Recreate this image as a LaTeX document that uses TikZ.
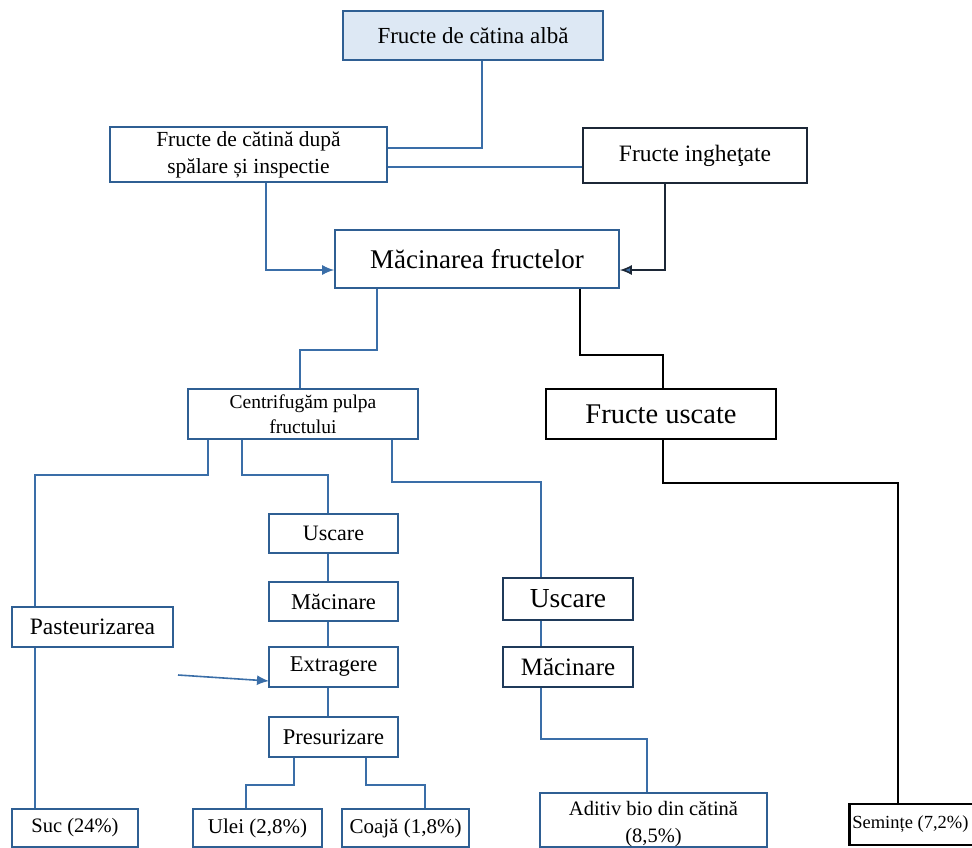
\documentclass[tikz,border=0pt]{standalone}
\usepackage{fontspec}
\setmainfont{Liberation Serif}
\usetikzlibrary{arrows.meta}
\definecolor{bord}{HTML}{2F5F93}
\definecolor{lin}{HTML}{3A6EA8}
\definecolor{topfill}{HTML}{DDE8F4}
\definecolor{navy}{HTML}{1C2736}
\definecolor{navyb}{HTML}{1F3A5A}
\newcommand{\fs}[2]{\fontsize{#1}{#2}\selectfont}
\tikzset{
  box/.style={draw=bord, line width=1.6pt, inner sep=0pt, align=center, fill=white},
  bbox/.style={draw=black, line width=2.8pt, inner sep=0pt, align=center, fill=white},
  conn/.style={draw=lin, line width=1.6pt},
  bconn/.style={draw=black, line width=2.8pt},
  arr/.style={-{Latex[length=12pt,width=10pt,fill=lin]}}
}
\begin{document}
\begin{tikzpicture}[x=1pt,y=-1pt]
\useasboundingbox (0,0) rectangle (972,848);
\clip (0,0) rectangle (972,848);
% coordinates for bends
\coordinate (b1) at (482,148);
\coordinate (b2) at (0,167);
\coordinate (b3) at (266,270);
\coordinate (b4) at (665,270);
\coordinate (b5) at (377,350);
\coordinate (b6) at (300,350);
\coordinate (c1) at (580,355);
\coordinate (c2) at (663,355);
\coordinate (c3) at (663,483);
\coordinate (c4) at (898,483);
\coordinate (d1) at (208,475);
\coordinate (d2) at (35,475);
\coordinate (d3) at (242,475);
\coordinate (d4) at (328,475);
\coordinate (d5) at (392,482);
\coordinate (d6) at (541,482);
\coordinate (e1) at (294,785);
\coordinate (e2) at (246,785);
\coordinate (e3) at (366,785);
\coordinate (e4) at (425,785);
\coordinate (f1) at (541,739);
\coordinate (f2) at (647,739);
\coordinate (astart) at (178,675);
\coordinate (aend) at (269,681);

% boxes
\node[box, fill=topfill, minimum width=260pt, minimum height=49pt, font=\fs{23}{27}] (top) at (473,35.5) {Fructe de cătina albă};
\node[box, minimum width=277pt, minimum height=55pt, font=\fs{21.5}{27}] (wash) at (248.5,154.5) {Fructe de cătină după\\spălare și inspectie};
\node[box, draw=navy, minimum width=224pt, minimum height=55pt, font=\fs{23.5}{28}] (frozen) at (695,155.5) {Fructe ingheţate};
\node[box, minimum width=284pt, minimum height=58pt, font=\fs{27}{32}] (grind) at (477,259) {Măcinarea fructelor};
\node[box, minimum width=230pt, minimum height=50pt, font=\fs{19.5}{25}] (centri) at (303,414) {Centrifugăm pulpa\\fructului};
\node[bbox, minimum width=230pt, minimum height=50pt, font=\fs{28.5}{33}] (dried) at (661,414) {Fructe uscate};
\node[box, minimum width=129pt, minimum height=39pt, font=\fs{22}{26}] (usc1) at (333.5,533.5) {Uscare};
\node[box, minimum width=129pt, minimum height=39pt, font=\fs{22.5}{26}] (mac1) at (333.5,601.5) {Măcinare};
\node[box, minimum width=129pt, minimum height=40pt, font=\fs{22.5}{26}] (extr) at (333.5,667) {Extragere};
\node[box, minimum width=129pt, minimum height=40pt, font=\fs{22.5}{26}] (pres) at (333.5,737) {Presurizare};
\node[box, minimum width=161pt, minimum height=40pt, font=\fs{23.5}{27}] (past) at (92.5,627) {Pasteurizarea};
\node[box, minimum width=126pt, minimum height=38pt, font=\fs{20.5}{24}] (suc) at (75,828) {Suc (24\%)};
\node[box, minimum width=129pt, minimum height=38pt, font=\fs{21}{24}] (ulei) at (257.5,828) {Ulei (2,8\%)};
\node[box, minimum width=127pt, minimum height=38pt, font=\fs{21}{24}] (coaja) at (405.5,828) {Coajă (1,8\%)};
\node[box, draw=navyb, minimum width=130pt, minimum height=42pt, font=\fs{27.5}{31}] (usc2) at (568,599) {Uscare};
\node[box, draw=navyb, minimum width=130pt, minimum height=40pt, font=\fs{25}{29}] (mac2) at (568,667) {Măcinare};
\node[box, minimum width=227pt, minimum height=54pt] (aditiv) at (653.5,820) {};
\node[inner sep=0pt, align=center, font=\fs{20.5}{27}] (aditivtext) at ([yshift=-4pt]aditiv.center) {Aditiv bio din cătină\\(8,5\%)};
\node[bbox, minimum width=130pt, minimum height=41pt, anchor=west, font=\fs{18.5}{22}] (seminte) at (848,824.5) {Semințe (7,2\%)\hspace*{8pt}};

% connectors
\draw[conn] (b1 |- top.south) -- (b1) -- (b1 -| wash.east);
\draw[conn] (b2 -| wash.east) -- (b2 -| frozen.west);
\draw[conn,arr] (b3 |- wash.south) -- (b3) -- (b3 -| grind.west);
\draw[conn,draw=navy,arr] (b4 |- frozen.south) -- (b4) -- (b4 -| grind.east);
\draw[conn] (b5 |- grind.south) -- (b5) -- (b6) -- (b6 |- centri.north);
\draw[bconn] (c1 |- grind.south) -- (c1) -- (c2) -- (c2 |- dried.north);
\draw[bconn] (c3 |- dried.south) -- (c3) -- (c4) -- (c4 |- seminte.north);
\draw[conn] (d1 |- centri.south) -- (d1) -- (d2) -- (d2 |- past.north);
\draw[conn] (d3 |- centri.south) -- (d3) -- (d4) -- (d4 |- usc1.north);
\draw[conn] (d5 |- centri.south) -- (d5) -- (d6) -- (d6 |- usc2.north);
\draw[conn] (d4 |- usc1.south) -- (d4 |- mac1.north);
\draw[conn] (d4 |- mac1.south) -- (d4 |- extr.north);
\draw[conn] (d4 |- extr.south) -- (d4 |- pres.north);
\draw[conn,arr] (astart) -- (aend);
\draw[conn] (e1 |- pres.south) -- (e1) -- (e2) -- (e2 |- ulei.north);
\draw[conn] (e3 |- pres.south) -- (e3) -- (e4) -- (e4 |- coaja.north);
\draw[conn] (d2 |- past.south) -- (d2 |- suc.north);
\draw[conn] (d6 |- usc2.south) -- (d6 |- mac2.north);
\draw[conn] (f1 |- mac2.south) -- (f1) -- (f2) -- (f2 |- aditiv.north);
\end{tikzpicture}
\end{document}
